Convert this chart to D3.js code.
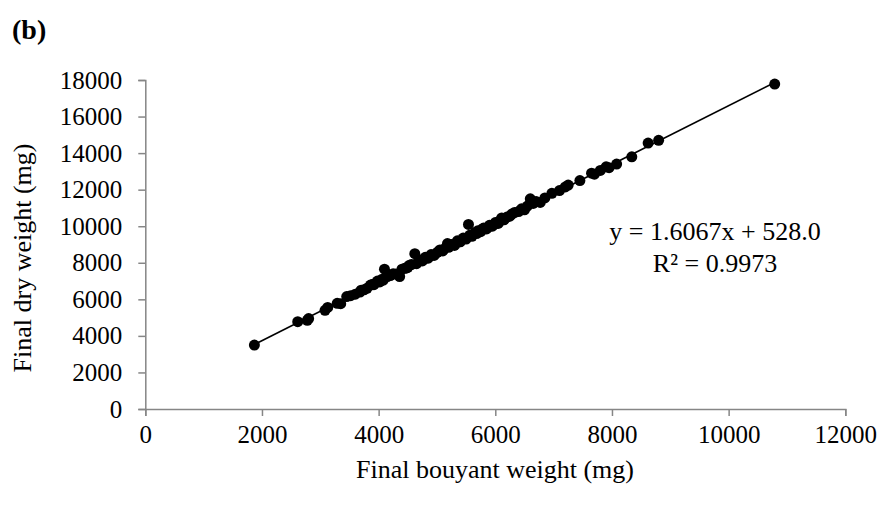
<!DOCTYPE html>
<html>
<head>
<meta charset="utf-8">
<script src="https://cdn.jsdelivr.net/npm/d3@7"></script>
<style>
  body { margin: 0; background: #fff; }
  text { font-family: "Liberation Serif", "Times New Roman", serif; fill: #000; }
</style>
</head>
<body>
<svg id="chart" width="881" height="510"></svg>
<script>
"use strict";

// final bouyant weight (mg)
var buoyant = [1870, 2613, 2777, 2800, 3081, 3127, 3290, 3350, 3453, 3520,
  3600, 3680, 3700, 3750, 3800, 3860, 3900, 3920, 3980, 4020,
  4060, 4080, 4100, 4150, 4200, 4250, 4300, 4360, 4400, 4450,
  4480, 4500, 4520, 4560, 4620, 4650, 4700, 4750, 4780, 4800,
  4850, 4870, 4900, 4950, 5000, 5020, 5050, 5100, 5120, 5180,
  5200, 5250, 5300, 5350, 5380, 5400, 5450, 5500, 5540, 5560,
  5600, 5650, 5680, 5700, 5750, 5780, 5800, 5850, 5880, 5900,
  5950, 5980, 6000, 6050, 6080, 6110, 6150, 6200, 6250, 6280,
  6330, 6400, 6450, 6500, 6550, 6600, 6650, 6700, 6770, 6850,
  6970, 7100, 7200, 7250, 7450, 7650, 7700, 7800, 7900, 7950,
  8080, 8340, 8620, 8800, 10790];

// final dry weight (mg)
var dry = [3500, 4776, 4850, 4950, 5400, 5560, 5780, 5760, 6150, 6200,
  6280, 6400, 6500, 6520, 6600, 6780, 6820, 6800, 7000, 6950,
  7100, 7050, 7650, 7250, 7300, 7400, 7380, 7250, 7650, 7700,
  7720, 7750, 7850, 7900, 8500, 7950, 8150, 8100, 8200, 8300,
  8250, 8350, 8450, 8400, 8550, 8600, 8700, 8650, 8750, 9050,
  8850, 9000, 8950, 9200, 9150, 9150, 9350, 9300, 10100, 9500,
  9450, 9650, 9600, 9750, 9700, 9850, 9900, 9850, 9950, 10050,
  10000, 10100, 10200, 10150, 10300, 10450, 10350, 10500, 10550, 10650,
  10750, 10800, 10950, 10900, 11100, 11500, 11250, 11350, 11300, 11550,
  11800, 11950, 12150, 12250, 12500, 12900, 12850, 13050, 13250, 13200,
  13400, 13800, 14550, 14700, 17780];

var xTicks = [0, 2000, 4000, 6000, 8000, 10000, 12000];
var yTicks = [0, 2000, 4000, 6000, 8000, 10000, 12000, 14000, 16000, 18000];
var slope = 1.6067, intercept = 528.0;
var fitLabels = ["y = 1.6067x + 528.0", "R² = 0.9973"];

var svg = d3.select("#chart"),
  fs = 25,
  titleFs = 26,
  axisColor = "#868686",
  x = d3.scaleLinear().domain([0, 12000]).range([145.3, 845.3]),
  y = d3.scaleLinear().domain([0, 18000]).range([409, 80])
;

var points = buoyant.map(function(b, i) { return {x: b, y: dry[i]}; });

// panel tag
svg.append("text")
  .attr("x", 12)
  .attr("y", 39)
  .style("font-size", "28px")
  .style("font-weight", "bold")
  .text("(b)");

// x axis
var xAxis = svg.append("g")
  .attr("transform", "translate(0," + y(0) + ")")
  .call(d3.axisBottom(x).tickValues(xTicks).tickSize(7).tickPadding(9).tickFormat(d3.format("d")));
xAxis.select(".domain").attr("stroke", axisColor).attr("stroke-width", 1.5);
xAxis.selectAll(".tick line").attr("stroke", axisColor).attr("stroke-width", 1.5);
xAxis.selectAll(".tick text")
  .attr("fill", "#000")
  .style("font-size", fs + "px")
  .style("font-family", "Liberation Serif");

// y axis
var yAxis = svg.append("g")
  .attr("transform", "translate(" + x(0) + ",0)")
  .call(d3.axisLeft(y).tickValues(yTicks).tickSize(7).tickPadding(16).tickFormat(d3.format("d")));
yAxis.select(".domain").attr("stroke", axisColor).attr("stroke-width", 1.5);
yAxis.selectAll(".tick line").attr("stroke", axisColor).attr("stroke-width", 1.5);
yAxis.selectAll(".tick text")
  .attr("fill", "#000")
  .style("font-size", fs + "px")
  .style("font-family", "Liberation Serif");

// trend line over the data range
var xExt = d3.extent(buoyant);
svg.append("line")
  .attr("x1", x(xExt[0]))
  .attr("y1", y(slope * xExt[0] + intercept))
  .attr("x2", x(xExt[1]))
  .attr("y2", y(slope * xExt[1] + intercept))
  .attr("stroke", "#000")
  .attr("stroke-width", 1.6);

svg.append("g").selectAll("circle")
  .data(points)
  .enter()
  .append("circle")
  .attr("cx", function(d) { return x(d.x); })
  .attr("cy", function(d) { return y(d.y); })
  .attr("r", 5.5)
  .attr("fill", "#000");

// fit equation
svg.append("g").selectAll("text")
  .data(fitLabels)
  .enter()
  .append("text")
  .attr("x", 715)
  .attr("y", function(d, i) { return 240 + i * 32; })
  .attr("text-anchor", "middle")
  .style("font-size", titleFs + "px")
  .text(function(d) { return d; });

// axis titles
svg.append("text")
  .attr("x", 495)
  .attr("y", 478)
  .attr("text-anchor", "middle")
  .style("font-size", titleFs + "px")
  .text("Final bouyant weight (mg)");

svg.append("text")
  .attr("transform", "translate(31,258) rotate(-90)")
  .attr("text-anchor", "middle")
  .style("font-size", titleFs + "px")
  .text("Final dry weight (mg)");
</script>
</body>
</html>
